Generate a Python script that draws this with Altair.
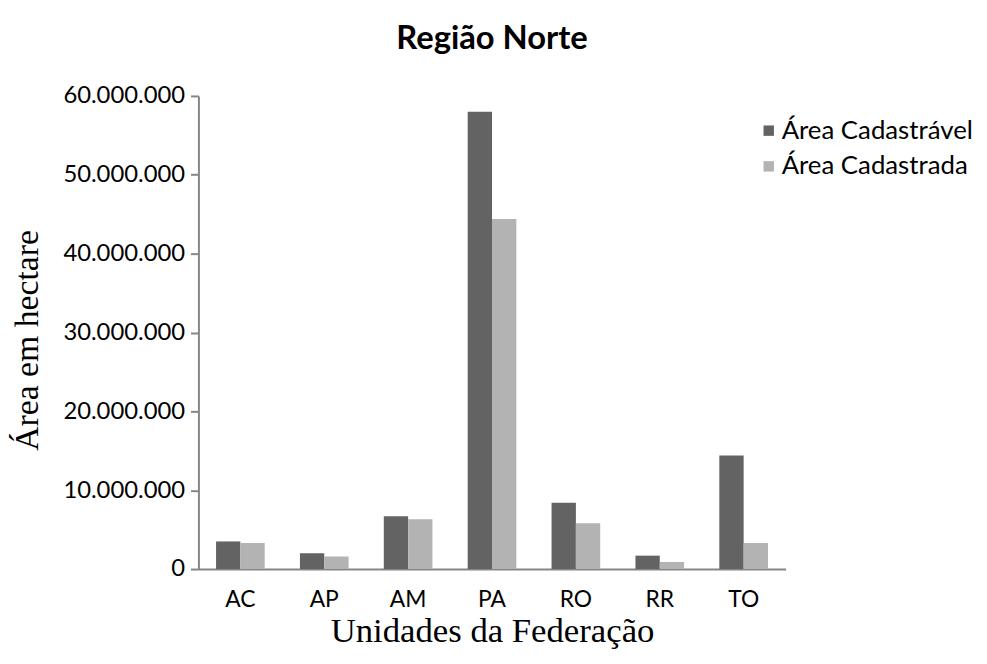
import altair as alt
import pandas as pd

estados = ["AC", "AP", "AM", "PA", "RO", "RR", "TO"]
cadastravel = [3500000, 2000000, 6700000, 58000000, 8400000, 1700000, 14400000]
cadastrada = [3300000, 1600000, 6300000, 44400000, 5800000, 900000, 3300000]
series = ["Área Cadastrável", "Área Cadastrada"]
colors = ["#636363", "#b3b3b3"]
y_ticks = [0, 10000000, 20000000, 30000000, 40000000, 50000000, 60000000]

rows = []
for i, uf in enumerate(estados):
    rows.append({"uf": uf, "serie": series[0], "valor": cadastravel[i]})
    rows.append({"uf": uf, "serie": series[1], "valor": cadastrada[i]})
df = pd.DataFrame(rows)

font = "Lato"
serif = "Liberation Serif"

chart = alt.Chart(df).mark_bar().encode(
    x=alt.X("uf:N", sort=estados,
            scale=alt.Scale(paddingInner=0.42, paddingOuter=0.21),
            axis=alt.Axis(title="Unidades da Federação", labelAngle=0, ticks=False, tickSize=0,
                          labelFont=font, labelFontSize=23, labelColor="black",
                          labelPadding=20, titleFont=serif, titleFontSize=35,
                          titleFontWeight="normal", titleColor="black", titlePadding=2,
                          domainColor="#868686", domainWidth=2)),
    xOffset=alt.XOffset("serie:N", sort=series),
    y=alt.Y("valor:Q", scale=alt.Scale(domain=[0, 60000000]),
            axis=alt.Axis(title="Área em hectare", values=y_ticks,
                          labelExpr="replace(replace(format(datum.value, ',d'), ',', '.'), ',', '.')",
                          grid=False, tickSize=8, tickColor="#868686", tickWidth=2,
                          domainColor="#868686", domainWidth=2,
                          labelFont=font, labelFontSize=24, labelColor="black", labelPadding=6,
                          titleFont=serif, titleFontSize=34, titleFontWeight="normal",
                          titleColor="black", titleX=-162, titleY=246, titleAngle=-90,
                          titleBaseline="alphabetic")),
    color=alt.Color("serie:N", sort=series,
                    scale=alt.Scale(domain=series, range=colors),
                    legend=alt.Legend(title=None, orient="none", legendX=562, legendY=22,
                                      symbolType="square", symbolSize=110, symbolStrokeWidth=0,
                                      labelFont=font, labelFontSize=26, labelColor="black",
                                      labelLimit=0, rowPadding=10, labelOffset=0)),
).properties(
    width=592, height=477,
    title=alt.Title("Região Norte", font=font, fontSize=33, fontWeight="bold",
                    color="black", anchor="middle", offset=28),
    autosize=alt.AutoSizeParams(type="none"),
    padding={"left": 192, "top": 86, "right": 195, "bottom": 85},
).configure_view(stroke=None)

chart.save("out.html", embed_options={"renderer": "svg", "actions": False})
